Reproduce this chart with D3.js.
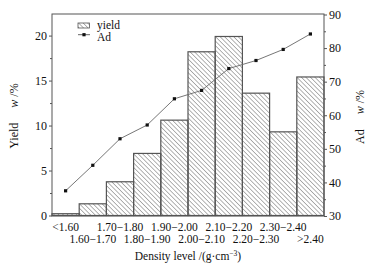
<!DOCTYPE html>
<html>
<head>
<meta charset="utf-8">
<script src="https://cdn.jsdelivr.net/npm/d3@7"></script>
<style>
  body { margin: 0; background: #fff; }
  svg text { font-family: "Liberation Serif", "Times New Roman", serif; fill: #111; }
</style>
</head>
<body>
<div id="chart"></div>
<script>
// density classes
var categories = ["<1.60", "1.60\u22121.70", "1.70\u22121.80", "1.80\u22121.90", "1.90\u22122.00",
                  "2.00\u22122.10", "2.10\u22122.20", "2.20\u22122.30", "2.30\u22122.40", ">2.40"];
// yield w/%
var yieldValues = [0.2, 1.3, 3.75, 6.9, 10.6, 18.2, 19.9, 13.6, 9.3, 15.4];
// Ad w/%
var adValues = [37.5, 45.1, 53.0, 57.1, 64.9, 67.4, 73.9, 76.3, 79.6, 84.2];
var leftTicks = [0, 5, 10, 15, 20];
var rightTicks = [30, 40, 50, 60, 70, 80, 90];

var W = 372, H = 269;
var margin = { top: 14, right: 48, bottom: 53, left: 52 };
var width = W - margin.left - margin.right,
    height = H - margin.top - margin.bottom;

var svg = d3.select("#chart").append("svg")
    .attr("width", W)
    .attr("height", H);

// hatch pattern for bars
var defs = svg.append("defs");
var pat = defs.append("pattern")
    .attr("id", "hatch")
    .attr("patternUnits", "userSpaceOnUse")
    .attr("width", 3.2)
    .attr("height", 3.2)
    .attr("patternTransform", "rotate(-45)");
pat.append("line")
    .attr("x1", 0).attr("y1", 0)
    .attr("x2", 0).attr("y2", 3.2)
    .attr("stroke", "#444")
    .attr("stroke-width", 0.8);

var g = svg.append("g")
    .attr("transform", "translate(" + margin.left + "," + margin.top + ")");

var x = d3.scaleBand()
    .domain(categories)
    .range([0, width])
    .padding(0);

var yL = d3.scaleLinear()
    .domain([0, 22.4])
    .range([height - 0.5, 0]);

var yR = d3.scaleLinear()
    .domain([30, 90])
    .range([height, 0.5]);

// bars
g.selectAll(".bar")
    .data(yieldValues)
    .join("rect")
    .attr("class", "bar")
    .attr("x", (d, i) => x(categories[i]))
    .attr("y", d => yL(d))
    .attr("width", x.bandwidth())
    .attr("height", d => yL(0) - yL(d))
    .attr("fill", "url(#hatch)")
    .attr("stroke", "#555")
    .attr("stroke-width", 1.2);

// Ad line
var line = d3.line()
    .x((d, i) => x(categories[i]) + x.bandwidth() / 2)
    .y(d => yR(d));

g.append("path")
    .datum(adValues)
    .attr("d", line)
    .attr("fill", "none")
    .attr("stroke", "#666")
    .attr("stroke-width", 0.9);

g.selectAll(".pt")
    .data(adValues)
    .join("rect")
    .attr("class", "pt")
    .attr("x", (d, i) => x(categories[i]) + x.bandwidth() / 2 - 1.6)
    .attr("y", d => yR(d) - 1.6)
    .attr("width", 3.2)
    .attr("height", 3.2)
    .attr("fill", "#111");

// frame
g.append("rect")
    .attr("x", 0).attr("y", 0)
    .attr("width", width).attr("height", height)
    .attr("fill", "none")
    .attr("stroke", "#555")
    .attr("stroke-width", 1);

// left axis
var leftAxis = g.append("g")
    .call(d3.axisLeft(yL).tickValues(leftTicks).tickSize(3).tickPadding(2));
leftAxis.select(".domain").remove();
leftAxis.selectAll("line").attr("stroke", "#555");
leftAxis.selectAll("text").attr("font-size", "12px").attr("fill", "#111");
g.append("g")
    .call(d3.axisLeft(yL).tickValues([2.5, 7.5, 12.5, 17.5]).tickSize(2).tickFormat(""))
    .call(a => a.select(".domain").remove())
    .selectAll("line").attr("stroke", "#555");

// right axis
var rightAxis = g.append("g")
    .attr("transform", "translate(" + width + ",0)")
    .call(d3.axisRight(yR).tickValues(rightTicks).tickSize(3).tickPadding(2));
rightAxis.select(".domain").remove();
rightAxis.selectAll("line").attr("stroke", "#555");
rightAxis.selectAll("text").attr("font-size", "12px").attr("fill", "#111");
g.append("g")
    .attr("transform", "translate(" + width + ",0)")
    .call(d3.axisRight(yR).tickValues([35, 45, 55, 65, 75, 85]).tickSize(2).tickFormat(""))
    .call(a => a.select(".domain").remove())
    .selectAll("line").attr("stroke", "#555");

// category labels, two staggered rows
g.selectAll(".xlab")
    .data(categories)
    .join("text")
    .attr("class", "xlab")
    .attr("x", d => x(d) + x.bandwidth() / 2)
    .attr("y", (d, i) => height + (i % 2 == 0 ? 15 : 27))
    .attr("text-anchor", "middle")
    .attr("font-size", "11.5px")
    .text(d => d);

// x title
var xt = g.append("text")
    .attr("x", width / 2)
    .attr("y", height + 44)
    .attr("text-anchor", "middle")
    .attr("font-size", "11.5px");
xt.append("tspan").text("Density level /(g\u00b7cm");
xt.append("tspan").attr("font-size", "7.5px").attr("dy", -4).text("\u22123");
xt.append("tspan").attr("dy", 4).text(")");

// y titles
var ylt = svg.append("text")
    .attr("transform", "translate(18," + 116 + ") rotate(-90)")
    .attr("text-anchor", "middle")
    .attr("font-size", "12px");
ylt.append("tspan").text("Yield\u2003 ");
ylt.append("tspan").attr("font-style", "italic").text("w");
ylt.append("tspan").text(" /%");

var yrt = svg.append("text")
    .attr("transform", "translate(364," + 117 + ") rotate(-90)")
    .attr("text-anchor", "middle")
    .attr("font-size", "12px");
yrt.append("tspan").text("Ad\u2003 ");
yrt.append("tspan").attr("font-style", "italic").text("w");
yrt.append("tspan").text(" /%");

// legend
var lg = g.append("g").attr("transform", "translate(26,9)");
lg.append("rect")
    .attr("x", 0).attr("y", 0)
    .attr("width", 11.5).attr("height", 5)
    .attr("fill", "url(#hatch)")
    .attr("stroke", "#555")
    .attr("stroke-width", 0.8);
lg.append("text").attr("x", 19).attr("y", 5.5).attr("font-size", "11.5px").text("yield");
lg.append("line")
    .attr("x1", 0).attr("x2", 12)
    .attr("y1", 11.7).attr("y2", 11.7)
    .attr("stroke", "#555").attr("stroke-width", 0.9);
lg.append("rect")
    .attr("x", 4.4).attr("y", 10.1)
    .attr("width", 3.2).attr("height", 3.2)
    .attr("fill", "#111");
lg.append("text").attr("x", 19).attr("y", 17.5).attr("font-size", "11.5px").text("Ad");
</script>
</body>
</html>
